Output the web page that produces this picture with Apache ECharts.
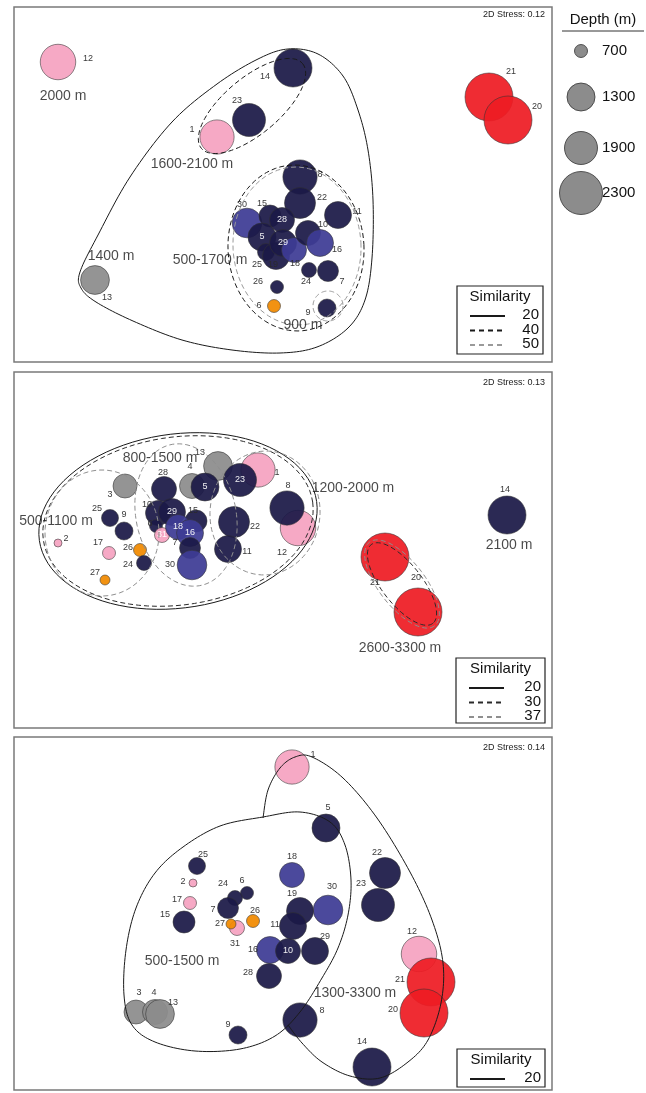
<!DOCTYPE html>
<html><head><meta charset="utf-8">
<script src="https://cdn.jsdelivr.net/npm/echarts@6/dist/echarts.min.js"></script>
<style>html,body{margin:0;padding:0;background:#fff}#c{width:646px;height:1093px}</style>
</head><body><div id="c"></div>
<script>
// ================= DATA =================
// depth (m) of samples 1..31 (read from bubble sizes / group labels)
const sampleDepth = [1950,500,1140,1180,1300,700,1020,1950,900,1180,1260,2000,1400,2100,1060,1260,700,1180,1260,3300,2600,1660,1900,780,860,700,580,1180,1260,1500,780];
const depthLegend = [700,1300,1900,2300];

// colour groups: N navy, B blue, P pink, G grey, O orange, R red
// ---- Panel 1 (stress 0.12) ----
const p1Samples = [12,14,23,1,13,21,20,8,22,11,30,15,28,5,25,19,29,18,10,16,24,7,26,6,9];
const p1X = [58,293,249,217,95,489,508,300,300,338,247,270,282,262,266,276,283,294,308,320,309,328,277,274,327];
const p1Y = [62,68,120,137,280,97,120,177,203,215,223,216,220,237,252,256,243,250,233,243,270,271,287,306,308];
const p1Group = ['P','N','N','P','G','R','R','N','N','N','B','N','N','N','N','N','N','B','N','B','N','N','N','O','N'];
const p1Stress = '2D Stress: 0.12';
const p1Similarity = [20,40,50];
const p1GroupText = ['2000 m','1600-2100 m','1400 m','500-1700 m','900 m'];
const p1GroupX = [63,192,111,210,303];
const p1GroupY = [96,164,256,260,325];

// ---- Panel 2 (stress 0.13) ----
const p2Samples = [3,13,4,28,5,1,23,12,8,22,11,25,9,10,29,6,15,31,18,16,7,30,2,17,26,24,27,14,21,20];
const p2X = [125,218,192,164,205,258,240,298,287,234,228,110,124,158,172,156,196,162,178,190,190,192,58,109,140,144,105,507,385,418];
const p2Y = [486,466,486,489,487,470,480,528,508,522,549,518,531,513,512,526,521,535,527,533,548,565,543,553,550,563,580,515,557,612];
const p2Group = ['G','G','G','N','N','P','N','P','N','N','N','N','N','N','N','N','N','P','B','B','N','B','P','P','O','N','O','N','R','R'];
const p2Stress = '2D Stress: 0.13';
const p2Similarity = [20,30,37];
const p2GroupText = ['800-1500 m','500-1100 m','1200-2000 m','2100 m','2600-3300 m'];
const p2GroupX = [160,56,353,509,400];
const p2GroupY = [458,521,488,545,648];

// ---- Panel 3 (stress 0.14) ----
const p3Samples = [1,5,22,23,30,29,12,21,20,8,14,18,19,11,16,10,28,25,2,17,15,6,24,7,31,27,26,3,4,13,9];
const p3X = [292,326,385,378,328,315,419,431,424,300,372,292,300,293,270,288,269,197,193,190,184,247,235,228,237,231,253,136,155,160,238];
const p3Y = [767,828,873,905,910,951,954,982,1013,1020,1067,875,911,926,950,951,976,866,883,903,922,893,898,908,928,924,921,1012,1012,1014,1035];
const p3Group = ['P','N','N','N','B','N','P','R','R','N','N','B','N','N','B','N','N','N','P','P','N','N','N','N','P','O','O','G','G','G','N'];
const p3Stress = '2D Stress: 0.14';
const p3Similarity = [20];
const p3GroupText = ['500-1500 m','1300-3300 m'];
const p3GroupX = [182,355];
const p3GroupY = [961,993];

// cluster outlines (similarity level contours)
// ellipses: [cx, cy, rx, ry, angleDeg, similarity]
const p1Ellipses = [[252,106,66,28,-40,40],[296,248,68,83,-3,40],[297,246,64,79,-3,50],[328,306,15,15,0,50]];
const p1Hull20 = [[80,272],[98,235],[130,177],[172,122],[217,84],[258,59],[288,49],[318,54],[343,76],[358,110],[368,150],[373,200],[372,258],[365,300],[348,328],[317,347],[280,353],[232,350],[182,340],[133,321],[96,302],[81,288]];
const p2Ellipses = [[178,521,140,87,-8,20],[178,521,136,84,-8,30],[102,533,57,63,0,37],[186,515,50,72,-12,37],[265,513,55,62,5,37],[402,584,50,20,52,30],[402,584,53,23,52,37]];
const p3Hull20a = [[263,817],[300,812],[330,822],[345,845],[351,880],[348,915],[338,948],[322,978],[300,1012],[275,1036],[240,1049],[195,1051],[155,1042],[132,1025],[124,995],[126,950],[136,908],[155,873],[183,847],[220,826]];
const p3Hull20b = [[263,818],[268,790],[280,768],[295,757],[312,757],[343,778],[377,818],[410,872],[432,920],[443,963],[441,1003],[428,1040],[408,1062],[380,1078],[350,1076],[322,1062],[302,1043],[288,1025]];

// ================= STYLE / LAYOUT =================
const FONT = 'Liberation Sans, Arial, sans-serif';
const COLOURS = {N:'#1b1947', B:'#3d3b94', P:'#f5a3c1', G:'#8c8c8c', O:'#f18a00', R:'#ee1c24'};
const sizeStops = [13,28,33,43];
function sizeOf(depth){
  const d = depthLegend, s = sizeStops;
  if (depth <= d[0]) return Math.max(6, s[0] + (depth-d[0])*(s[1]-s[0])/(d[1]-d[0]));
  for (let i=1;i<d.length;i++) if (depth<=d[i]) return s[i-1]+(depth-d[i-1])*(s[i]-s[i-1])/(d[i]-d[i-1]);
  return Math.min(48, s[3]+(depth-d[3])*(s[3]-s[2])/(d[3]-d[2]));
}
const simStyle = {
  20:{stroke:'#1a1a1a', dash:null},
  30:{stroke:'#2a2a2a', dash:[5,3]},
  37:{stroke:'#8f8f8f', dash:[5,3]},
  40:{stroke:'#1a1a1a', dash:[5,3]},
  50:{stroke:'#9a9a9a', dash:[5,3]}
};
// label offsets (px) from bubble centre; 'in' = white label inside bubble
const p1Label = {12:[30,-3],14:[-28,9],23:[-12,-19],1:[-25,-7],13:[12,18],21:[22,-25],20:[29,-13],8:[20,-2],22:[22,-5],11:[19,-3],30:[-5,-18],15:[-8,-12],28:'in',5:'in',25:[-9,13],19:[-3,9],29:'in',18:[1,14],10:[15,-8],16:[17,7],24:[-3,12],7:[14,11],26:[-19,-5],6:[-15,0],9:[-19,5]};
const p2Label = {3:[-15,9],13:[-18,-13],4:[-2,-19],28:[-1,-16],5:'in',1:[19,3],23:'in',12:[-16,25],8:[1,-22],22:[21,5],11:[19,3],25:[-13,-9],9:[0,-16],10:[-11,-8],29:'in',6:[-6,-2],15:[-3,-10],31:'in',18:'in',16:'in',7:[-15,-5],30:[-22,0],2:[8,-4],17:[-11,-10],26:[-12,-2],24:[-16,2],27:[-10,-7],14:[-2,-25],21:[-10,26],20:[-2,-34]};
const p3Label = {1:[21,-12],5:[2,-20],22:[-8,-20],23:[-17,-21],30:[4,-23],29:[10,-14],12:[-7,-22],21:[-31,-2],20:[-31,-3],8:[22,-9],14:[-10,-25],18:[0,-18],19:[-8,-17],11:[-18,-1],16:[-17,0],10:'in',28:[-21,-3],25:[6,-11],2:[-10,-1],17:[-13,-3],15:[-19,-7],6:[-5,-12],24:[-12,-14],7:[-15,2],27:[-11,0],31:[-2,16],26:[2,-10],3:[3,-19],4:[-1,-19],13:[13,-11],9:[-10,-10]};

function ellipsePts(e){
  const [cx,cy,rx,ry,ang] = e, a = ang*Math.PI/180, pts=[];
  for(let i=0;i<90;i++){const t=i/90*2*Math.PI; const x=rx*Math.cos(t), y=ry*Math.sin(t);
    pts.push([cx + x*Math.cos(a) - y*Math.sin(a), cy + x*Math.sin(a) + y*Math.cos(a)]);}
  return pts;
}
// Catmull-Rom spline through outline vertices (pixel space)
function spline(pts, closed){
  const n=pts.length, out=[], seg=12;
  const get=i=>closed?pts[(i+n)%n]:pts[Math.max(0,Math.min(n-1,i))];
  const last = closed? n : n-1;
  for(let i=0;i<last;i++){
    const p0=get(i-1),p1=get(i),p2=get(i+1),p3=get(i+2);
    for(let s=0;s<seg;s++){const t=s/seg,t2=t*t,t3=t2*t;
      const f=(a,b,c,d)=>0.5*((2*b)+(-a+c)*t+(2*a-5*b+4*c-d)*t2+(-a+3*b-3*c+d)*t3);
      out.push([f(p0[0],p1[0],p2[0],p3[0]),f(p0[1],p1[1],p2[1],p3[1])]);}
  }
  if(!closed) out.push(pts[n-1]);
  return out;
}

const panels = [
  {grid:{left:14,top:7,width:538,height:355}, ids:p1Samples,x:p1X,y:p1Y,grp:p1Group,lab:p1Label,
   gt:p1GroupText,gx:p1GroupX,gy:p1GroupY,stress:p1Stress,sim:p1Similarity,
   outlines:[{pts:p1Hull20,closed:true,curve:true,sim:20}].concat(p1Ellipses.map(e=>({pts:ellipsePts(e),closed:true,sim:e[5]}))),
   legendBox:[457,286,86,68], stressY:15},
  {grid:{left:14,top:372,width:538,height:356}, ids:p2Samples,x:p2X,y:p2Y,grp:p2Group,lab:p2Label,
   gt:p2GroupText,gx:p2GroupX,gy:p2GroupY,stress:p2Stress,sim:p2Similarity,
   outlines:p2Ellipses.map(e=>({pts:ellipsePts(e),closed:true,sim:e[5]})),
   legendBox:[456,658,89,65], stressY:383},
  {grid:{left:14,top:737,width:538,height:353}, ids:p3Samples,x:p3X,y:p3Y,grp:p3Group,lab:p3Label,
   gt:p3GroupText,gx:p3GroupX,gy:p3GroupY,stress:p3Stress,sim:p3Similarity,
   outlines:[{pts:p3Hull20a,closed:true,curve:true,sim:20},{pts:p3Hull20b,closed:false,curve:true,sim:20}],
   legendBox:[457,1049,88,38], stressY:748}
];

const grids=[], xAxes=[], yAxes=[], series=[], graphic=[];
panels.forEach((p,i)=>{
  const g=p.grid;
  grids.push({left:g.left,top:g.top,width:g.width,height:g.height,show:true,borderColor:'#7a7a7a',borderWidth:1.5,backgroundColor:'#fff',containLabel:false});
  xAxes.push({gridIndex:i,type:'value',min:g.left,max:g.left+g.width,show:false});
  yAxes.push({gridIndex:i,type:'value',min:g.top,max:g.top+g.height,inverse:true,show:false});
  // bubbles
  series.push({type:'scatter',xAxisIndex:i,yAxisIndex:i,z:3,silent:true,animation:false,
    itemStyle:{borderColor:'#333',borderWidth:0.6,opacity:0.93},
    label:{show:true,position:'inside',fontSize:9,fontFamily:FONT,formatter:q=>q.name},
    data:p.ids.map((id,k)=>{const lp=p.lab[id]; const inside=(lp==='in'||!lp);
      return {name:String(id),value:[p.x[k],p.y[k]],symbolSize:sizeOf(sampleDepth[id-1]),
        itemStyle:{color:COLOURS[p.grp[k]]},
        label:{offset:inside?[0,0]:lp,color:inside?'#fff':'#2a2a2a'}};})
  });
  // outlines
  const outs=p.outlines;
  series.push({type:'custom',xAxisIndex:i,yAxisIndex:i,z:4,silent:true,animation:false,
    data:outs.map((o,k)=>[o.pts[0][0],o.pts[0][1],k]),
    renderItem:(params,api)=>{const o=outs[params.dataIndex]; const st=simStyle[o.sim];
      let pts=o.pts.map(pt=>api.coord(pt));
      if(o.curve) pts=spline(pts,o.closed);
      return {type:o.closed?'polygon':'polyline',shape:{points:pts},
        style:{fill:null,stroke:st.stroke,lineWidth:1,lineDash:st.dash}};}
  });
  // group labels
  series.push({type:'scatter',xAxisIndex:i,yAxisIndex:i,z:6,silent:true,animation:false,symbolSize:1,
    itemStyle:{color:'rgba(0,0,0,0)'},
    label:{show:true,position:'inside',fontSize:14,fontFamily:FONT,color:'#1a1a1a',formatter:q=>q.name},
    data:p.gt.map((t,k)=>({name:t,value:[p.gx[k],p.gy[k]]}))
  });
  // stress text
  graphic.push({type:'text',z:20,x:545,y:p.stressY,style:{text:p.stress,fill:'#222',font:'9px '+FONT,textAlign:'right',align:'right',textVerticalAlign:'middle',verticalAlign:'middle'}});
  // similarity legend
  const [bx,by,bw,bh]=p.legendBox;
  graphic.push({type:'rect',z:20,shape:{x:bx,y:by,width:bw,height:bh},style:{fill:'#fff',stroke:'#222',lineWidth:1.2}});
  graphic.push({type:'text',z:21,x:bx+bw/2,y:by+11,style:{text:'Similarity',fill:'#111',font:'15px '+FONT,textAlign:'center',align:'center',textVerticalAlign:'middle',verticalAlign:'middle'}});
  p.sim.forEach((s,k)=>{const yy=by+29+k*14.5; const st=simStyle[s];
    graphic.push({type:'line',z:21,shape:{x1:bx+13,y1:yy+1,x2:bx+48,y2:yy+1},style:{stroke:st.stroke,lineWidth:1.8,lineDash:st.dash?[5,4]:null}});
    graphic.push({type:'text',z:21,x:bx+bw-4,y:yy,style:{text:String(s),fill:'#111',font:'15px '+FONT,textAlign:'right',align:'right',textVerticalAlign:'middle',verticalAlign:'middle'}});
  });
});

// depth legend
graphic.push({type:'text',z:20,x:603,y:20,style:{text:'Depth (m)',fill:'#111',font:'15px '+FONT,textAlign:'center',align:'center',textVerticalAlign:'middle',verticalAlign:'middle'}});
graphic.push({type:'line',z:20,shape:{x1:562,y1:31,x2:644,y2:31},style:{stroke:'#333',lineWidth:1}});
const legendY=[51,97,148,193];
depthLegend.forEach((d,k)=>{
  graphic.push({type:'circle',z:20,shape:{cx:581,cy:legendY[k],r:sizeOf(d)/2},style:{fill:'#8c8c8c',stroke:'#333',lineWidth:0.8}});
  graphic.push({type:'text',z:20,x:602,y:legendY[k],style:{text:String(d),fill:'#111',font:'15px '+FONT,textAlign:'left',align:'left',textVerticalAlign:'middle',verticalAlign:'middle'}});
});

const chart=echarts.init(document.getElementById('c'),null,{renderer:'canvas'});
chart.setOption({animation:false,backgroundColor:'#fff',grid:grids,xAxis:xAxes,yAxis:yAxes,series:series,graphic:graphic});
</script></body></html>
